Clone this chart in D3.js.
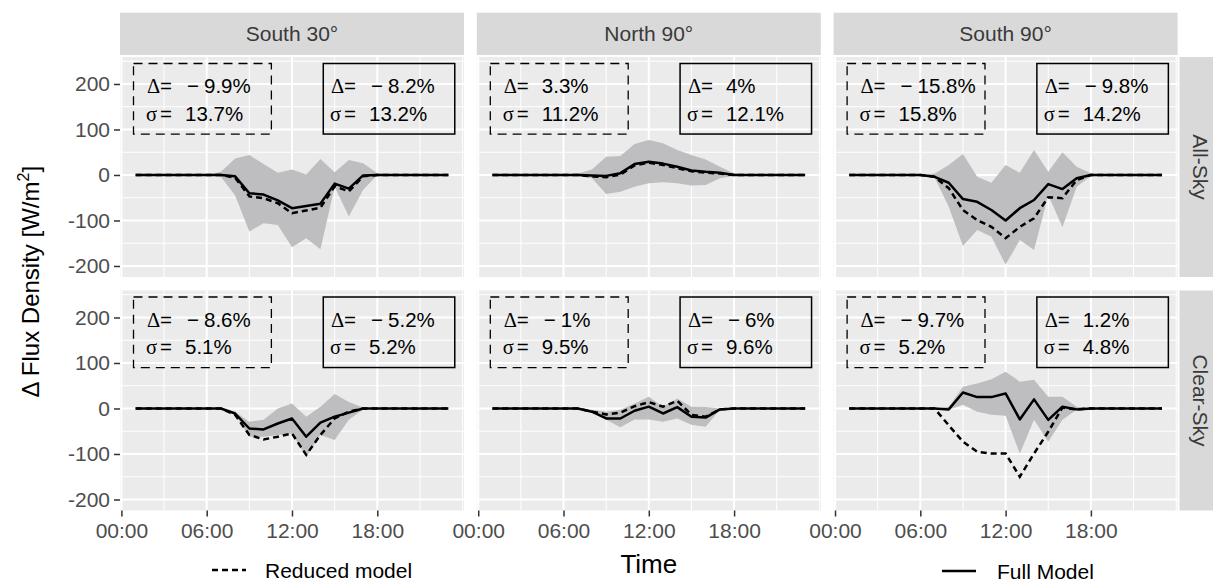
<!DOCTYPE html>
<html><head><meta charset="utf-8">
<script src="https://cdn.jsdelivr.net/npm/d3@7/dist/d3.min.js"></script>
<style>body{margin:0;background:#fff}svg{display:block}</style>
</head><body>
<svg id="chart" width="1213" height="582"></svg>
<script>
// ---------- data ----------
const hours = [1,2,3,4,5,6,7,8,9,10,11,12,13,14,15,16,17,18,19,20,21,22,23];
const colLabels = ["South 30°", "North 90°", "South 90°"];
const rowLabels = ["All-Sky", "Clear-Sky"];
const xTickValues = [0, 6, 12, 18];
const xTickLabels = ["00:00", "06:00", "12:00", "18:00"];
const yTickValues = [-200, -100, 0, 100, 200];

// All-Sky
const fullS30All    = [0,0,0,0,0,0, 0,-3,-40,-43,-56,-73,-68,-63,-19,-30,-1,0, 0,0,0,0,0];
const reducedS30All = [0,0,0,0,0,0, 0,-6,-47,-51,-62,-84,-78,-72,-25,-36,-3,0, 0,0,0,0,0];
const upperS30All   = [0,0,0,0,0,0, 7,36,44,24,5,12,1,35,6,33,26,4, 0,0,0,0,0];
const lowerS30All   = [0,0,0,0,0,0, -4,-45,-124,-106,-110,-159,-139,-163,-26,-91,-33,0, 0,0,0,0,0];

const fullN90All    = [0,0,0,0,0,0, 0,-1,-2,4,24,29,25,18,10,7,5,0, 0,0,0,0,0];
const reducedN90All = [0,0,0,0,0,0, 0,-3,-5,1,21,27,22,15,8,5,3,0, 0,0,0,0,0];
const upperN90All   = [0,0,0,0,0,0, 3,12,40,42,68,77,70,55,44,34,18,4, 0,0,0,0,0];
const lowerN90All   = [0,0,0,0,0,0, -2,-7,-42,-37,-26,-18,-16,-18,-23,-22,-7,-2, 0,0,0,0,0];

const fullS90All    = [0,0,0,0,0,0, -4,-17,-53,-59,-77,-100,-73,-55,-20,-31,-7,0, 0,0,0,0,0];
const reducedS90All = [0,0,0,0,0,0, -4,-29,-77,-99,-114,-139,-114,-95,-49,-51,-11,0, 0,0,0,0,0];
const upperS90All   = [0,0,0,0,0,0, 3,22,46,-4,-17,22,5,55,7,50,18,4, 0,0,0,0,0];
const lowerS90All   = [0,0,0,0,0,0, -5,-70,-156,-121,-136,-197,-143,-165,-44,-115,-26,-2, 0,0,0,0,0];

// Clear-Sky
const fullS30Clear    = [0,0,0,0,0,0, 0,-11,-44,-46,-33,-22,-62,-31,-18,-9,0,0, 0,0,0,0,0];
const reducedS30Clear = [0,0,0,0,0,0, 0,-14,-58,-68,-62,-55,-102,-58,-22,-7,0,0, 0,0,0,0,0];
const upperS30Clear   = [0,0,0,0,0,0, 0,-7,-29,-25,0,11,-18,4,32,14,2,0, 0,0,0,0,0];
const lowerS30Clear   = [0,0,0,0,0,0, 0,-14,-62,-62,-58,-55,-106,-58,-69,-25,-2,0, 0,0,0,0,0];

const fullN90Clear    = [0,0,0,0,0,0, 0,-7,-22,-22,-5,4,-11,3,-18,-20,-2,0, 0,0,0,0,0];
const reducedN90Clear = [0,0,0,0,0,0, 0,-7,-13,-9,5,14,4,17,-14,-18,-2,0, 0,0,0,0,0];
const upperN90Clear   = [0,0,0,0,0,0, 0,-3,-7,-3,11,26,4,22,4,3,0,0, 0,0,0,0,0];
const lowerN90Clear   = [0,0,0,0,0,0, 0,-8,-25,-41,-24,-24,-29,-22,-36,-40,-3,0, 0,0,0,0,0];

const fullS90Clear    = [0,0,0,0,0,0, 0,-2,35,25,25,33,-24,20,-25,4,-2,0, 0,0,0,0,0];
const reducedS90Clear = [0,0,0,0,0,0, 0,-37,-73,-95,-99,-99,-150,-99,-51,2,-2,0, 0,0,0,0,0];
const upperS90Clear   = [0,0,0,0,0,0, 0,4,48,55,64,81,59,63,26,26,4,0, 0,0,0,0,0];
const lowerS90Clear   = [0,0,0,0,0,0, 0,-3,8,-7,-14,-16,-99,-25,-73,-25,-3,0, 0,0,0,0,0];

// statistics boxes: [delta, sigma] for reduced (dashed) and full (solid)
const statsReduced = [["−9.9%","13.7%"],["3.3%","11.2%"],["−15.8%","15.8%"],
                      ["−8.6%","5.1%"],["−1%","9.5%"],["−9.7%","5.2%"]];
const statsFull    = [["−8.2%","13.2%"],["4%","12.1%"],["−9.8%","14.2%"],
                      ["−5.2%","5.2%"],["−6%","9.6%"],["1.2%","4.8%"]];

const panels = [
  {row:0,col:0,full:fullS30All,red:reducedS30All,up:upperS30All,lo:lowerS30All},
  {row:0,col:1,full:fullN90All,red:reducedN90All,up:upperN90All,lo:lowerN90All},
  {row:0,col:2,full:fullS90All,red:reducedS90All,up:upperS90All,lo:lowerS90All},
  {row:1,col:0,full:fullS30Clear,red:reducedS30Clear,up:upperS30Clear,lo:lowerS30Clear},
  {row:1,col:1,full:fullN90Clear,red:reducedN90Clear,up:upperN90Clear,lo:lowerN90Clear},
  {row:1,col:2,full:fullS90Clear,red:reducedS90Clear,up:upperS90Clear,lo:lowerS90Clear}
];

// ---------- layout ----------
const svg = d3.select("#chart");
const SANS = "'Liberation Sans', Arial, Helvetica, sans-serif";
const SERIF = "'Liberation Serif', 'Times New Roman', serif";
const PW = 344, PH = 220, GAPX = 12.8, GAPY = 13.5;
const X0 = 120, Y0 = 57;
const xDomain = [-0.1, 24.1];
const yDomain = [-224.2, 259.3];
const boxY = [90, 245];
const dashedBoxX = [0.85, 10.55], solidBoxX = [14.2, 23.45];
const dashedTextX = 1.8, solidTextX = 14.75;

const g = svg.append("g");

panels.forEach((p, i) => {
  const px = X0 + p.col * (PW + GAPX);
  const py = Y0 + p.row * (PH + GAPY);
  const x = d3.scaleLinear().domain(xDomain).range([px, px + PW]);
  const y = d3.scaleLinear().domain(yDomain).range([py + PH, py]);
  const pg = g.append("g");
  pg.append("rect").attr("x", px).attr("y", py).attr("width", PW).attr("height", PH).attr("fill", "#EBEBEB");
  // grid
  const minorX = [3, 9, 15, 21, 24], minorY = [-150, -50, 50, 150, 250];
  pg.selectAll(".mx").data(minorX).join("line").attr("x1", d => x(d)).attr("x2", d => x(d))
    .attr("y1", py).attr("y2", py + PH).attr("stroke", "#fff").attr("stroke-width", 1);
  pg.selectAll(".my").data(minorY).join("line").attr("y1", d => y(d)).attr("y2", d => y(d))
    .attr("x1", px).attr("x2", px + PW).attr("stroke", "#fff").attr("stroke-width", 1);
  pg.selectAll(".Mx").data(xTickValues).join("line").attr("x1", d => x(d)).attr("x2", d => x(d))
    .attr("y1", py).attr("y2", py + PH).attr("stroke", "#fff").attr("stroke-width", 2);
  pg.selectAll(".My").data(yTickValues).join("line").attr("y1", d => y(d)).attr("y2", d => y(d))
    .attr("x1", px).attr("x2", px + PW).attr("stroke", "#fff").attr("stroke-width", 2);

  // ribbon
  const area = d3.area().x((d, k) => x(hours[k])).y0((d, k) => y(p.lo[k])).y1((d, k) => y(p.up[k]));
  pg.append("path").datum(hours).attr("d", area).attr("fill", "#BEBEC0");

  const line = arr => d3.line().x((d, k) => x(hours[k])).y((d, k) => y(arr[k]))(hours);
  pg.append("path").attr("d", line(p.red)).attr("fill", "none").attr("stroke", "#000")
    .attr("stroke-width", 2.5).attr("stroke-dasharray", "6,4");
  pg.append("path").attr("d", line(p.full)).attr("fill", "none").attr("stroke", "#000")
    .attr("stroke-width", 2.5).attr("stroke-linejoin", "round");

  // boxes
  pg.append("rect").attr("x", x(dashedBoxX[0])).attr("y", y(boxY[1]))
    .attr("width", x(dashedBoxX[1]) - x(dashedBoxX[0])).attr("height", y(boxY[0]) - y(boxY[1]))
    .attr("fill", "none").attr("stroke", "#000").attr("stroke-width", 1.3).attr("stroke-dasharray", "9,6");
  pg.append("rect").attr("x", x(solidBoxX[0])).attr("y", y(boxY[1]))
    .attr("width", x(solidBoxX[1]) - x(solidBoxX[0])).attr("height", y(boxY[0]) - y(boxY[1]))
    .attr("fill", "none").attr("stroke", "#000").attr("stroke-width", 1.5);

  const statText = (x0, line1y, line2y, st) => {
    const fs = 20.5;
    const t1 = pg.append("text").attr("y", line1y).attr("font-size", fs).attr("font-family", SANS).attr("fill", "#000");
    t1.append("tspan").attr("x", x0).attr("font-family", SERIF).text("Δ");
    t1.append("tspan").attr("x", x0 + 13).text("=");
    if (st[0].startsWith("−")) {
      t1.append("tspan").attr("x", x0 + 40).text("−");
      t1.append("tspan").attr("x", x0 + 57).text(st[0].slice(1));
    } else {
      t1.append("tspan").attr("x", x0 + 38).text(st[0]);
    }
    const t2 = pg.append("text").attr("y", line2y).attr("font-size", fs).attr("font-family", SANS).attr("fill", "#000");
    t2.append("tspan").attr("x", x0 - 1).attr("font-family", SERIF).text("σ");
    t2.append("tspan").attr("x", x0 + 13).text("=");
    t2.append("tspan").attr("x", x0 + 38).text(st[1]);
  };
  const l1 = y(195.6) + 7.3, l2 = y(135) + 7.3;
  statText(x(dashedTextX), l1, l2, statsReduced[i]);
  statText(x(solidTextX), l1, l2, statsFull[i]);

  // axes
  if (p.col === 0) {
    const ax = pg.append("g").attr("transform", `translate(${px},0)`)
      .call(d3.axisLeft(y).tickValues(yTickValues).tickSize(6).tickPadding(4).tickFormat(d3.format("d")));
    ax.select(".domain").remove();
    ax.selectAll(".tick line").attr("stroke", "#333").attr("stroke-width", 1.5);
    ax.selectAll(".tick text").attr("fill", "#4D4D4D").attr("font-size", 21).attr("font-family", SANS)
      .text(d => d < 0 ? "-" + Math.abs(d) : d);
  }
  if (p.row === 1) {
    const ax = pg.append("g").attr("transform", `translate(0,${py + PH})`)
      .call(d3.axisBottom(x).tickValues(xTickValues).tickSize(6).tickPadding(7)
        .tickFormat((d, k) => xTickLabels[k]));
    ax.select(".domain").remove();
    ax.selectAll(".tick line").attr("stroke", "#333").attr("stroke-width", 1.5);
    ax.selectAll(".tick text").attr("fill", "#4D4D4D").attr("font-size", 21).attr("font-family", SANS);
  }
});

// top strips
colLabels.forEach((lab, c) => {
  const px = X0 + c * (PW + GAPX);
  g.append("rect").attr("x", px).attr("y", 12.7).attr("width", PW).attr("height", 42.3).attr("fill", "#D9D9D9");
  g.append("text").attr("x", px + PW / 2).attr("y", 34).attr("dy", "0.35em").attr("text-anchor", "middle")
    .attr("font-size", 21).attr("font-family", SANS).attr("fill", "#3a3a3a").text(lab);
});
// right strips
rowLabels.forEach((lab, r) => {
  const py = Y0 + r * (PH + GAPY);
  g.append("rect").attr("x", 1179.5).attr("y", py).attr("width", 42.3).attr("height", PH).attr("fill", "#D9D9D9");
  g.append("text").attr("transform", `translate(1200.5,${py + PH / 2}) rotate(90)`).attr("dy", "0.35em")
    .attr("text-anchor", "middle").attr("font-size", 21).attr("font-family", SANS).attr("fill", "#3a3a3a").text(lab);
});

// axis titles
g.append("text").attr("x", X0 + (3 * PW + 2 * GAPX) / 2).attr("y", 573).attr("text-anchor", "middle")
  .attr("font-size", 26).attr("font-family", SANS).attr("fill", "#000").text("Time");
const yt = g.append("text").attr("transform", `translate(39,${Y0 + (2 * PH + GAPY) / 2 - 2}) rotate(-90)`)
  .attr("text-anchor", "middle").attr("font-size", 24).attr("font-family", SANS).attr("fill", "#000");
yt.append("tspan").text("Δ Flux Density [W/m");
yt.append("tspan").attr("font-size", 16).attr("dy", -10).text("2");
yt.append("tspan").attr("dy", 10).text("]");

// legends
g.append("line").attr("x1", 212).attr("x2", 246).attr("y1", 570).attr("y2", 570)
  .attr("stroke", "#000").attr("stroke-width", 2.5).attr("stroke-dasharray", "6,4");
g.append("text").attr("x", 265).attr("y", 577.5).attr("font-size", 21).attr("font-family", SANS).attr("fill", "#000").text("Reduced model");
g.append("line").attr("x1", 942).attr("x2", 976).attr("y1", 571).attr("y2", 571)
  .attr("stroke", "#000").attr("stroke-width", 2.5);
g.append("text").attr("x", 997).attr("y", 578.5).attr("font-size", 21).attr("font-family", SANS).attr("fill", "#000").text("Full Model");
</script>
</body></html>
